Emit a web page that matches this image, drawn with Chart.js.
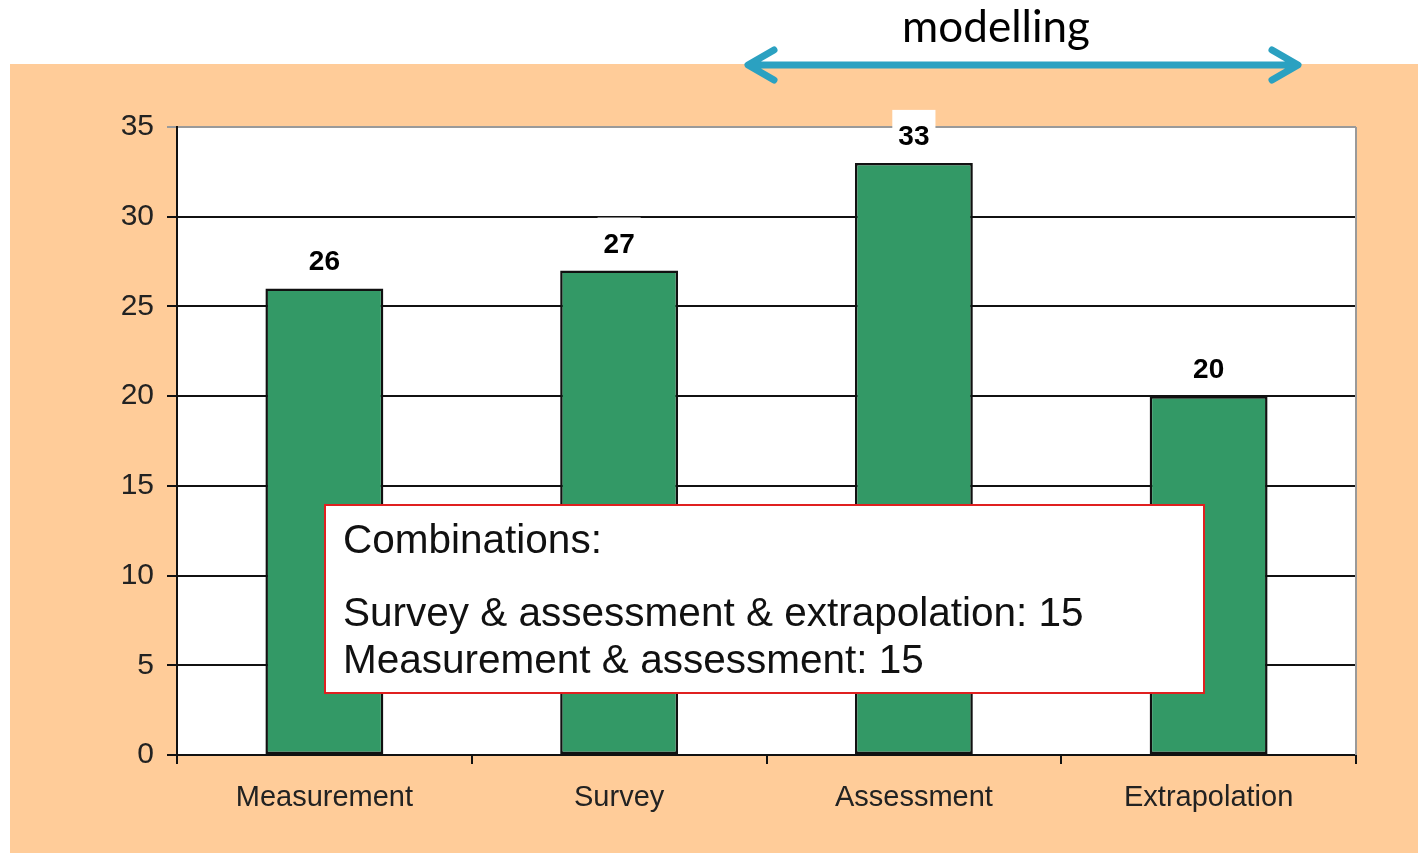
<!DOCTYPE html>
<html>
<head>
<meta charset="utf-8">
<script src="https://cdn.jsdelivr.net/npm/chart.js@4.4.1/dist/chart.umd.min.js"></script>
<style>
  html, body { margin: 0; padding: 0; background: #ffffff; }
  #wrap { width: 1418px; height: 853px; position: relative; }
</style>
</head>
<body>
<div id="wrap"><canvas id="methods_cnv"></canvas></div>
<script>
// chart data
const categories = ["Measurement", "Survey", "Assessment", "Extrapolation"];
const method_counts = [26, 27, 33, 20];
const y_ticks = [0, 5, 10, 15, 20, 25, 30, 35];
const combination_lines = ["Combinations:", "Survey & assessment & extrapolation: 15", "Measurement & assessment: 15"];
const arrow_caption = "modelling";

const font_family = "'Liberation Sans', Arial, sans-serif";

// orange panel + white plot area + right border
const background_plugin = {
    id: "background_plugin",
    beforeDraw(chart) {
        const ctx = chart.ctx;
        const area = chart.chartArea;
        ctx.save();
        ctx.fillStyle = "#ffffff";
        ctx.fillRect(0, 0, chart.width, chart.height);
        ctx.fillStyle = "#ffcc99";
        ctx.fillRect(10, 64, chart.width - 10, chart.height - 64);
        ctx.fillStyle = "#ffffff";
        ctx.fillRect(area.left, area.top, area.right - area.left, area.bottom - area.top);
        ctx.restore();
    },
    beforeDatasetsDraw(chart) {
        const ctx = chart.ctx;
        const area = chart.chartArea;
        ctx.save();
        ctx.strokeStyle = "#9a9a9a";
        ctx.lineWidth = 2;
        ctx.beginPath();
        ctx.moveTo(area.right, area.top);
        ctx.lineTo(area.right, area.bottom);
        ctx.stroke();
        ctx.restore();
    }
};

// value labels with white box, annotation box, modelling arrow
const overlay_plugin = {
    id: "overlay_plugin",
    afterDatasetsDraw(chart) {
        const ctx = chart.ctx;
        const meta = chart.getDatasetMeta(0);
        ctx.save();

        ctx.font = "bold 28px " + font_family;
        ctx.textAlign = "center";
        ctx.textBaseline = "alphabetic";
        meta.data.forEach(function (bar, i) {
            const txt = String(method_counts[i]);
            const w = ctx.measureText(txt).width;
            const base = bar.y - 18;
            ctx.fillStyle = "#ffffff";
            ctx.fillRect(bar.x - w / 2 - 6, base - 20 - 15, w + 12, 20 + 15 + 6);
            ctx.fillStyle = "#000000";
            ctx.fillText(txt, bar.x, base);
        });

        // combinations box
        ctx.fillStyle = "#ffffff";
        ctx.fillRect(325, 505, 879, 188);
        ctx.strokeStyle = "#e02020";
        ctx.lineWidth = 2;
        ctx.strokeRect(325, 505, 879, 188);
        ctx.fillStyle = "#111111";
        ctx.textAlign = "left";
        ctx.font = "40.5px " + font_family;
        ctx.fillText(combination_lines[0], 343, 553);
        ctx.fillText(combination_lines[1], 343, 626);
        ctx.fillText(combination_lines[2], 343, 673);

        // modelling arrow
        ctx.strokeStyle = "#2ba1c1";
        ctx.lineWidth = 7;
        ctx.lineCap = "round";
        ctx.lineJoin = "round";
        ctx.beginPath();
        ctx.moveTo(750, 65);
        ctx.lineTo(1296, 65);
        ctx.moveTo(774, 50);
        ctx.lineTo(748, 65);
        ctx.lineTo(774, 80);
        ctx.moveTo(1272, 50);
        ctx.lineTo(1298, 65);
        ctx.lineTo(1272, 80);
        ctx.stroke();

        ctx.fillStyle = "#000000";
        ctx.textAlign = "center";
        ctx.font = "44px Lato, 'Open Sans', sans-serif";
        ctx.fillText(arrow_caption, 996, 42);
        ctx.restore();
    }
};

const methods_chart = new Chart(document.getElementById("methods_cnv").getContext("2d"), {
    type: "bar",
    data: {
        labels: categories,
        datasets: [{
            label: "Methods",
            data: method_counts,
            backgroundColor: "#339966",
            borderColor: "#111111",
            borderWidth: 2.5,
            borderSkipped: false,
            barPercentage: 0.8,
            categoryPercentage: 0.5
        }]
    },
    options: {
        responsive: true,
        maintainAspectRatio: false,
        animation: false,
        layout: { padding: { left: 0, top: 127, right: 62, bottom: 0 } },
        plugins: {
            legend: { display: false },
            tooltip: { enabled: false }
        },
        scales: {
            x: {
                grid: {
                    offset: true,
                    drawOnChartArea: false,
                    drawTicks: true,
                    tickLength: 9,
                    color: "#111111",
                    lineWidth: 2
                },
                border: { display: true, color: "#111111", width: 2 },
                ticks: {
                    color: "#222222",
                    padding: 17,
                    font: { family: font_family, size: 29 }
                },
                afterFit(scale) { scale.height = 98; }
            },
            y: {
                min: 0,
                max: 35,
                afterBuildTicks(scale) {
                    scale.ticks = y_ticks.map(function (v) { return { value: v }; });
                },
                grid: {
                    drawTicks: true,
                    tickLength: 10,
                    color: function (c) { return c.tick && c.tick.value === 35 ? "#9a9a9a" : "#111111"; },
                    lineWidth: 2
                },
                border: { display: true, color: "#111111", width: 2 },
                ticks: {
                    color: "#222222",
                    padding: 13,
                    font: { family: font_family, size: 30 }
                },
                afterFit(scale) { scale.width = 177; }
            }
        }
    },
    plugins: [background_plugin, overlay_plugin]
});
</script>
</body>
</html>
